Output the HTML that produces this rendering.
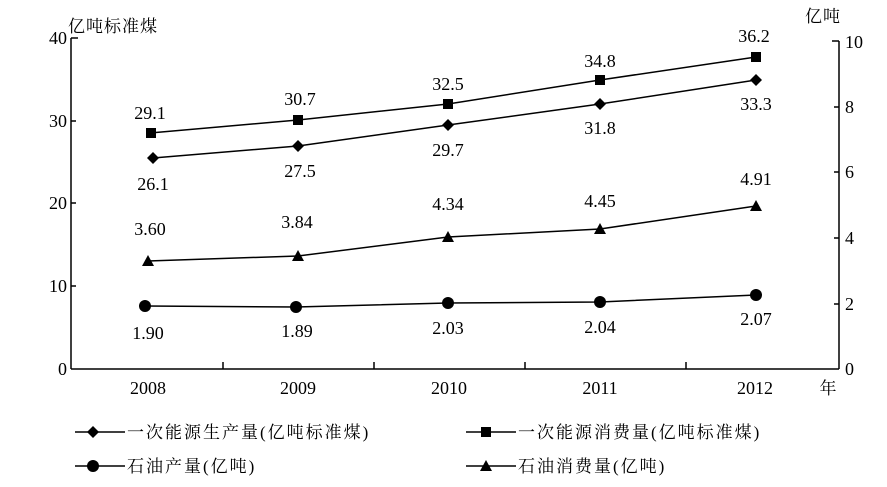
<!DOCTYPE html>
<html><head><meta charset="utf-8"><style>body{margin:0;background:#fff}svg{display:block}text{font-family:"Liberation Serif","Noto Serif CJK SC",serif;fill:#000}</style></head><body>
<svg width="887" height="487" viewBox="0 0 887 487">
<g stroke="#000" stroke-width="1.5" fill="none">
<line x1="71" y1="38" x2="71" y2="369"/>
<line x1="71" y1="369" x2="839" y2="369"/>
<line x1="839" y1="41" x2="839" y2="369"/>
<line x1="71" y1="38" x2="78" y2="38"/><line x1="71" y1="121" x2="76" y2="121"/><line x1="71" y1="203" x2="76" y2="203"/><line x1="71" y1="286" x2="76" y2="286"/>
<line x1="832" y1="41" x2="839" y2="41"/><line x1="834" y1="107" x2="839" y2="107"/><line x1="834" y1="172" x2="839" y2="172"/><line x1="834" y1="238" x2="839" y2="238"/><line x1="834" y1="304" x2="839" y2="304"/>
<line x1="223" y1="362" x2="223" y2="369"/><line x1="374" y1="362" x2="374" y2="369"/><line x1="525" y1="362" x2="525" y2="369"/><line x1="686" y1="362" x2="686" y2="369"/>
<polyline points="150,133 298,120 448,104 600,80 756,57"/>
<polyline points="153,158 298,146 448,125 600,104 756,80"/>
<polyline points="148,261 298,256 448,237 600,229 756,206"/>
<polyline points="145,306 296,307 448,303 600,302 756,295"/>
<line x1="75" y1="432" x2="125" y2="432"/><line x1="466" y1="432" x2="516" y2="432"/>
<line x1="75" y1="466" x2="125" y2="466"/><line x1="466" y1="466" x2="516" y2="466"/>
</g>
<g fill="#000">
<rect x="146" y="128" width="10" height="10"/><rect x="293" y="115" width="10" height="10"/><rect x="443" y="99" width="10" height="10"/><rect x="595" y="75" width="10" height="10"/><rect x="751" y="52" width="10" height="10"/><rect x="481" y="427" width="10" height="10"/>
<polygon points="153,152 159,158 153,164 147,158"/>
<polygon points="298,140 304,146 298,152 292,146"/><polygon points="448,119 454,125 448,131 442,125"/><polygon points="600,98 606,104 600,110 594,104"/><polygon points="756,74 762,80 756,86 750,80"/><polygon points="93,426 99,432 93,438 87,432"/>
<polygon points="148,255 154,266 142,266"/><polygon points="298,250 304,261 292,261"/><polygon points="448,231 454,242 442,242"/><polygon points="600,223 606,234 594,234"/><polygon points="756,200 762,211 750,211"/><polygon points="486,460 492,471 480,471"/>
<circle cx="145" cy="306" r="6"/><circle cx="296" cy="307" r="6"/><circle cx="448" cy="303" r="6"/><circle cx="600" cy="302" r="6"/><circle cx="756" cy="295" r="6"/><circle cx="93" cy="466" r="6"/>
</g>
<g font-size="18">
<text x="67" y="44" text-anchor="end">40</text><text x="67" y="127" text-anchor="end">30</text><text x="67" y="209" text-anchor="end">20</text><text x="67" y="292" text-anchor="end">10</text><text x="67" y="375" text-anchor="end">0</text>
<text x="845" y="48">10</text><text x="845" y="113">8</text><text x="845" y="178">6</text><text x="845" y="244">4</text><text x="845" y="310">2</text><text x="845" y="375">0</text>
<text x="148" y="394" text-anchor="middle">2008</text><text x="298" y="394" text-anchor="middle">2009</text><text x="449" y="394" text-anchor="middle">2010</text><text x="600" y="394" text-anchor="middle">2011</text><text x="755" y="394" text-anchor="middle">2012</text>
<text x="828" y="394" text-anchor="middle" font-size="17">年</text>
<text x="68" y="32" font-size="17" letter-spacing="1">亿吨标准煤</text><text x="805" y="22" font-size="17" letter-spacing="1">亿吨</text>
<g text-anchor="middle">
<text x="150" y="119">29.1</text><text x="300" y="105">30.7</text><text x="448" y="90">32.5</text><text x="600" y="67">34.8</text><text x="754" y="42">36.2</text>
<text x="153" y="190">26.1</text><text x="300" y="177">27.5</text><text x="448" y="156">29.7</text><text x="600" y="134">31.8</text><text x="756" y="110">33.3</text>
<text x="150" y="235">3.60</text><text x="297" y="228">3.84</text><text x="448" y="210">4.34</text><text x="600" y="207">4.45</text><text x="756" y="185">4.91</text>
<text x="148" y="339">1.90</text><text x="297" y="337">1.89</text><text x="448" y="334">2.03</text><text x="600" y="333">2.04</text><text x="756" y="325">2.07</text>
</g>
<g font-size="17" letter-spacing="2">
<text x="127" y="438">一次能源生产量(亿吨标准煤)</text><text x="518" y="438">一次能源消费量(亿吨标准煤)</text>
<text x="127" y="472">石油产量(亿吨)</text><text x="518" y="472">石油消费量(亿吨)</text>
</g>
</g>
</svg>
</body></html>
